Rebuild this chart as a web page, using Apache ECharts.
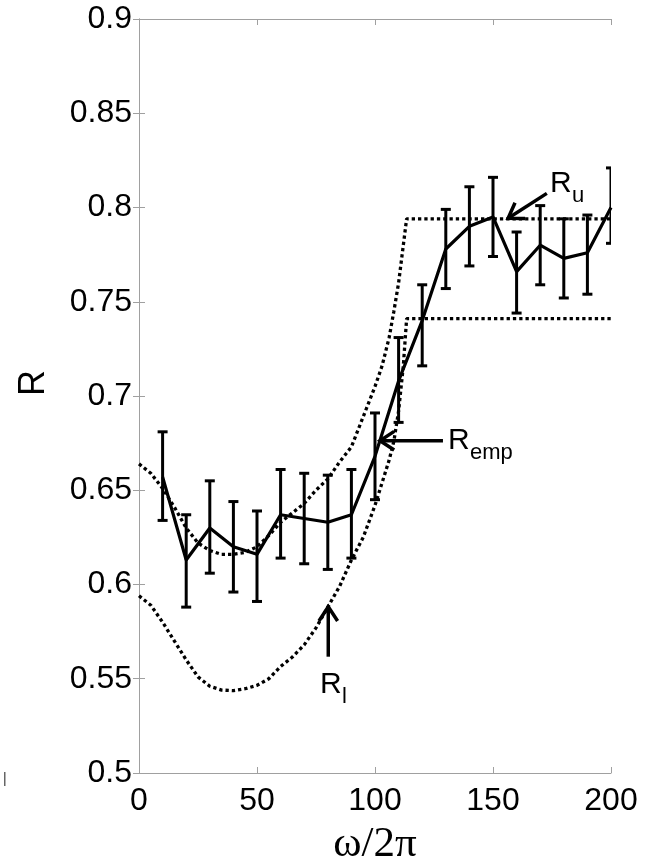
<!DOCTYPE html>
<html><head><meta charset="utf-8">
<script src="https://cdn.jsdelivr.net/npm/echarts@6/dist/echarts.min.js"></script>
<style>html,body{margin:0;padding:0;background:#fff}#c{width:647px;height:865px}</style>
</head><body><div id="c"></div>
<script>
// Empirical R with error bars
const omega   = [10,20,30,40,50,60,70,80,90,100,110,120,130,140,150,160,170,180,190,200];
const rEmp    = [0.657,0.613,0.630,0.620,0.616,0.637,0.635,0.633,0.637,0.668,0.708,0.740,0.778,0.790,0.795,0.766,0.780,0.773,0.776,0.800];
const errHigh = [0.681,0.637,0.655,0.644,0.639,0.661,0.659,0.658,0.661,0.691,0.731,0.759,0.799,0.811,0.816,0.787,0.801,0.794,0.796,0.821];
const errLow  = [0.634,0.588,0.606,0.596,0.591,0.614,0.611,0.608,0.614,0.645,0.686,0.716,0.757,0.769,0.774,0.744,0.759,0.752,0.754,0.781];

// Upper bound R_u (dotted)
const upperX = [0,5,10,15,20,25,30,35,40,45,50,55,60,65,70,75,80,85,90,95,100,103,106,108,110,112,113.4,200];
const upperY = [0.664,0.659,0.651,0.641,0.630,0.622,0.618,0.616,0.616,0.617,0.620,0.626,0.633,0.638,0.643,0.650,0.656,0.665,0.673,0.689,0.705,0.716,0.731,0.745,0.760,0.780,0.794,0.794];

// Lower bound R_l (dotted)
const lowerX = [0,5,10,15,20,25,30,35,40,45,50,55,60,65,70,75,80,85,90,95,100,103,106,108,110,112,113.4,200];
const lowerY = [0.594,0.589,0.580,0.570,0.560,0.551,0.546,0.544,0.5437,0.5447,0.5465,0.550,0.5565,0.5615,0.568,0.577,0.588,0.599,0.613,0.625,0.642,0.654,0.666,0.676,0.692,0.716,0.741,0.741];

// Axis ticks
const xTicks = [0,50,100,150,200];
const yTicks = [0.5,0.55,0.6,0.65,0.7,0.75,0.8,0.85,0.9];

// Annotations (data coordinates)
const annoSub  = ['u','emp','l'];
const annoTail = [[172.8,0.8075],[128.8,0.6763],[80.2,0.5617]];
const annoTip  = [[156.4,0.7943],[102.1,0.6763],[80.2,0.5882]];
const annoText = [[174.2,0.8125],[130.9,0.6761],[76.7,0.5467]];

const chart = echarts.init(document.getElementById('c'), null, {renderer:'canvas'});
const grey = '#a0a0a0';
const tickFont = 'Liberation Sans';

function axisCommon(){
  return {
    axisLine:{show:true,lineStyle:{color:grey,width:1}},
    axisTick:{show:true,inside:true,length:6,lineStyle:{color:grey,width:1}},
    splitLine:{show:false}
  };
}

const dotted = {color:'#000',width:3.3,type:[3.3,3],cap:'butt'};

const option = {
  animation:false,
  backgroundColor:'#fff',
  grid:{left:139,right:36,top:19,bottom:92,containLabel:false,outerBoundsMode:'none'},
  graphic:[
    {type:'text',x:34,y:383,rotation:Math.PI/2,
      style:{text:'R',font:'36px "Liberation Sans"',fill:'#000',align:'center',verticalAlign:'middle'}},
    {type:'rect',shape:{x:4,y:772,width:1.5,height:14},style:{fill:'#666'}}
  ],
  xAxis:[
    Object.assign({type:'value',min:0,max:200,interval:50,position:'bottom',
      name:'ω/2π',nameLocation:'middle',nameGap:50,
      nameTextStyle:{fontFamily:'Liberation Serif',fontSize:43,color:'#000'},
      axisLabel:{fontFamily:tickFont,fontSize:32,color:'#000',margin:12,
        formatter:v=>xTicks.indexOf(v)>=0?String(v):''}},axisCommon()),
    Object.assign({type:'value',min:0,max:200,interval:50,position:'top',
      axisLabel:{show:false}},axisCommon())
  ],
  yAxis:[
    Object.assign({type:'value',min:0.5,max:0.9,interval:0.05,position:'left',
      axisLabel:{fontFamily:tickFont,fontSize:32,color:'#000',margin:7,
        formatter:v=>{const t=yTicks.find(k=>Math.abs(k-v)<1e-9);return t===undefined?'':String(t);}}},axisCommon()),
    Object.assign({type:'value',min:0.5,max:0.9,interval:0.05,position:'right',
      axisLabel:{show:false}},axisCommon())
  ],
  series:[
    {type:'line',name:'R_u',data:upperX.map((x,i)=>[x,upperY[i]]),showSymbol:false,symbol:'none',
      lineStyle:dotted,z:2},
    {type:'line',name:'R_l',data:lowerX.map((x,i)=>[x,lowerY[i]]),showSymbol:false,symbol:'none',
      lineStyle:dotted,z:2},
    {type:'line',name:'R_emp',data:omega.map((x,i)=>[x,rEmp[i]]),showSymbol:false,symbol:'none',
      lineStyle:{color:'#000',width:3.2},z:3},
    {type:'custom',name:'err',clip:true,z:4,
      data:omega.map((x,i)=>[x,errLow[i],errHigh[i]]),
      renderItem:function(params,api){
        const x=api.value(0);
        const lo=api.coord([x,api.value(1)]);
        const hi=api.coord([x,api.value(2)]);
        const w=5;
        const st={stroke:'#000',lineWidth:3};
        return {type:'group',children:[
          {type:'line',shape:{x1:lo[0],y1:lo[1],x2:hi[0],y2:hi[1]},style:st},
          {type:'line',shape:{x1:lo[0]-w,y1:lo[1],x2:lo[0]+w,y2:lo[1]},style:st},
          {type:'line',shape:{x1:hi[0]-w,y1:hi[1],x2:hi[0]+w,y2:hi[1]},style:st}
        ]};
      }},
    {type:'custom',name:'anno',clip:false,z:5,
      data:annoSub.map((s,i)=>[i]),
      renderItem:function(params,api){
        const i=params.dataIndex;
        const t=api.coord(annoTail[i]);
        const p=api.coord(annoTip[i]);
        const q=api.coord(annoText[i]);
        const ang=Math.atan2(t[1]-p[1],t[0]-p[0]);
        const L=17, A=0.58;
        const h1=[p[0]+L*Math.cos(ang+A),p[1]+L*Math.sin(ang+A)];
        const h2=[p[0]+L*Math.cos(ang-A),p[1]+L*Math.sin(ang-A)];
        const st={stroke:'#000',lineWidth:3.5,fill:null};
        return {type:'group',children:[
          {type:'line',shape:{x1:t[0],y1:t[1],x2:p[0],y2:p[1]},style:st},
          {type:'polyline',shape:{points:[h1,p,h2]},style:st},
          {type:'text',style:{text:'R',x:q[0],y:q[1],font:'30px "Liberation Sans"',fill:'#000',align:'left',verticalAlign:'middle'}},
          {type:'text',style:{text:annoSub[i],x:q[0]+22,y:q[1]+12,font:'22px "Liberation Sans"',fill:'#000',align:'left',verticalAlign:'middle'}}
        ]};
      }}
  ]
};
chart.setOption(option);
</script>
</body></html>
